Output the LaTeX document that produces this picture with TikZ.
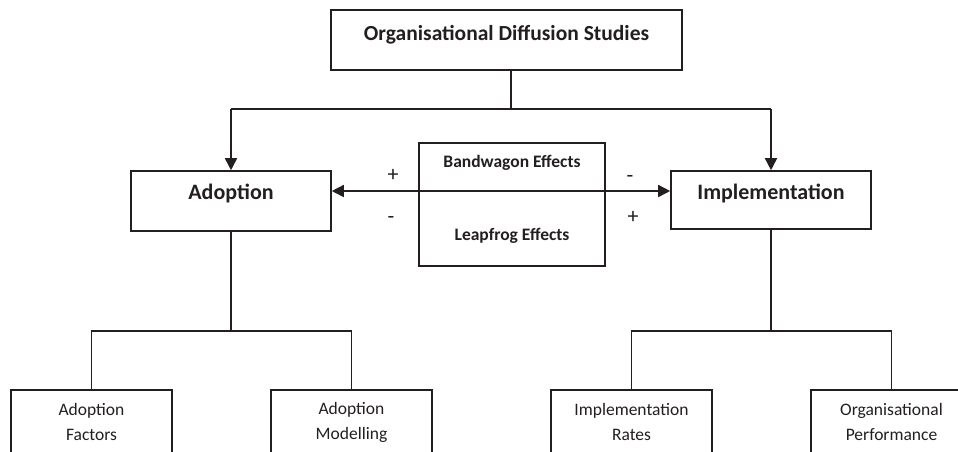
\documentclass[tikz,border=0pt]{standalone}
\usepackage{fontspec}
\setmainfont{Carlito}
\usetikzlibrary{arrows.meta}
\definecolor{ink}{HTML}{231F20}
\begin{document}
\begin{tikzpicture}[x=1pt,y=-1pt,
  line width=1.6pt,
  ln/.style={draw=ink, line width=1.6pt},
  box/.style={draw=ink, line width=1.6pt, rectangle, inner sep=0pt, fill=white},
  txt/.style={text=ink, inner sep=0pt, align=center},
  arr/.style={ln, -{Triangle[length=12pt,width=12pt]}},
  darr/.style={ln, {Triangle[length=12pt,width=12pt]}-{Triangle[length=12pt,width=12pt]}},
  headfont/.style={font=\bfseries\fontsize{22}{26}\selectfont},
  titlefont/.style={font=\bfseries\fontsize{21.5}{26}\selectfont},
  effont/.style={font=\bfseries\fontsize{17.5}{22}\selectfont},
  leaffont/.style={font=\fontsize{17.5}{25}\selectfont},
  signfont/.style={font=\fontsize{22}{26}\selectfont}
]
\useasboundingbox (0,0) rectangle (958,451);
\clip (0,0) rectangle (958,451);

% boxes
\node[box, minimum width=351pt, minimum height=60pt] (top) at (506.5,40) {};
\node[txt, titlefont] (toptxt) at (506.5,35) {Organisational Diffusion Studies};

\node[box, minimum width=200pt, minimum height=60pt] (adop) at (231,201) {};
\node[txt, headfont] (adoptxt) at (231,193) {Adoption};

\node[box, minimum width=200pt, minimum height=58pt] (impl) at (771,200) {};
\node[txt, headfont] (impltxt) at (771,193) {Implementation};

\node[box, minimum width=186pt, minimum height=123pt] (mid) at (512,204.5) {};
\node[txt, effont] (band) at (512,163) {Bandwagon Effects};
\node[txt, effont] (leap) at (512,236) {Leapfrog Effects};

\node[box, minimum width=161pt, minimum height=100pt] (af) at (91.5,440) {};
\node[txt, leaffont] (aftxt) at (91.5,422) {Adoption\\Factors};
\node[box, minimum width=161pt, minimum height=100pt] (am) at (351.5,440) {};
\node[txt, leaffont] (amtxt) at (351.5,422) {Adoption\\Modelling};
\node[box, minimum width=161pt, minimum height=100pt] (ir) at (631.5,440) {};
\node[txt, leaffont] (irtxt) at (631.5,422) {Implementation\\Rates};
\node[box, minimum width=161pt, minimum height=100pt] (op) at (891.5,440) {};
\node[txt, leaffont] (optxt) at (891.5,422) {Organisational\\Performance};

% top branching
\coordinate (hub) at (511,109);
\draw[ln] (top.south -| hub) -- (hub);
\draw[ln] (adop.north |- hub) -- (impl.north |- hub);
\draw[arr] (adop.north |- hub) -- (adop.north);
\draw[arr] (impl.north |- hub) -- (impl.north);

% double arrow
\draw[darr] (adop.east |- 0,191) -- (impl.west |- 0,191);

% signs
\node[txt, signfont, anchor=base] (p1) at (393,181) {+};
\node[txt, signfont, anchor=base] (m1) at (391,223) {-};
\node[txt, signfont, anchor=base] (m2) at (630,182) {-};
\node[txt, signfont, anchor=base] (p2) at (633,223) {+};

% bottom branching
\coordinate (lb) at (231,331);
\coordinate (rb) at (771,331);
\draw[ln] (adop.south) -- (lb);
\draw[ln] (af.north) -- (af.north |- lb) -- (am.north |- lb) -- (am.north);
\draw[ln] (impl.south) -- (rb);
\draw[ln] (ir.north) -- (ir.north |- rb) -- (op.north |- rb) -- (op.north);
\end{tikzpicture}
\end{document}
